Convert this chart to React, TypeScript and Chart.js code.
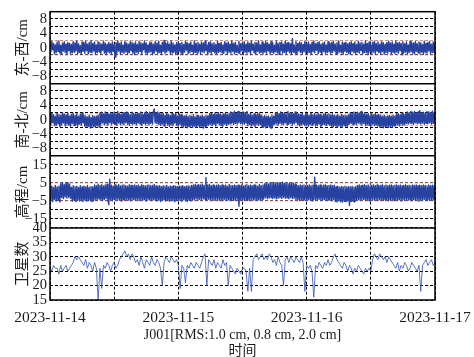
import React, { useEffect, useRef } from 'react';
import { Chart, registerables } from 'chart.js';

Chart.register(...registerables);

// ---------- data ----------
const DATE_LABELS = ['2023-11-14', '2023-11-15', '2023-11-16', '2023-11-17'];
const X_MAX_HOURS = 72; // 2023-11-14 00:00 .. 2023-11-17 00:00
const X_TITLE = ['J001[RMS:1.0 cm, 0.8 cm, 2.0 cm]', '时间'];
const Y_TITLES = ['东-西/cm', '南-北/cm', '高程/cm', '卫星数'];

// east-west, one sample every 10 minutes (cm)
const EAST_WEST = [
  1.4, -1.1, 1.8, -0.6, 1.2, -1.7, 0.8, -1.4, 1.6, -1.0, 1.9, -1.5, 0.7, -1.8, 1.3, -0.9, 1.7, -1.3, 1.0, -1.9, 1.5, -0.8, 1.2, -1.6,
  0.9, -1.4, 1.7, -1.2, 1.4, -0.7, 1.9, -1.6, 1.1, -1.3, 0.6, -1.8, 1.6, -1.0, 1.3, -1.5, 1.8, -0.8, 1.0, -1.7, 1.5, -1.2, 2.0, -1.4,
  1.2, -0.9, 1.6, -1.8, 0.8, -1.3, 1.7, -1.1, 1.4, -1.6, 1.0, -0.7, 1.8, -1.5, 1.3, -1.9, 0.9, -1.2, 1.5, -1.4, 1.1, -1.7, 1.6, -1.0,
  0.8, -2.6, 1.4, -1.5, 1.9, -0.9, 1.2, -1.7, 1.6, -1.3, 0.7, -1.6, 1.8, -1.1, 1.3, -1.8, 1.0, -1.4, 1.7, -0.8, 1.5, -1.5, 1.2, -1.9,
  1.6, -1.2, 0.9, -1.6, 1.8, -1.0, 1.4, -1.7, 1.1, -0.6, 1.9, -1.4, 1.3, -1.8, 0.8, -1.3, 1.6, -1.1, 1.5, -1.9, 1.0, -1.5, 1.7, -0.9,
  1.3, -1.6, 1.8, -1.3, 0.7, -1.8, 1.5, -1.0, 2.0, -1.5, 1.2, -1.2, 1.6, -0.8, 1.0, -1.7, 1.9, -1.4, 1.3, -1.1, 0.8, -1.6, 1.4, -1.8,
  1.7, -1.0, 1.2, -1.5, 1.5, -1.9, 0.9, -1.2, 1.8, -0.7, 1.4, -1.6, 1.1, -1.4, 1.6, -1.0, 0.7, -1.8, 1.9, -1.3, 1.2, -1.5, 1.5, -0.9,
  1.0, -1.7, 1.6, -1.1, 1.3, -1.4, 1.9, -0.8, 0.8, -1.9, 1.5, -1.2, 1.7, -1.6, 1.1, -1.0, 1.4, -1.5, 0.9, -1.7, 1.8, -1.3, 1.2, -1.1,
  1.5, -1.4, 0.8, -1.6, 1.7, -0.9, 1.3, -1.8, 1.6, -1.2, 1.0, -1.5, 1.9, -1.0, 1.2, -1.7, 1.5, -1.3, 0.7, -1.4, 1.8, -1.6, 1.1, -0.8,
  1.4, -1.9, 1.7, -1.2, 0.9, -1.5, 1.6, -1.1, 1.2, -1.8, 1.8, -0.7, 1.0, -1.4, 1.5, -1.6, 1.3, -1.0, 1.9, -1.5, 0.8, -1.3, 1.6, -1.7,
  1.1, -1.2, 1.8, -1.5, 1.4, -0.9, 1.0, -1.7, 1.7, -1.3, 1.3, -1.6, 0.7, -1.1, 1.9, -1.4, 1.2, -1.8, 1.5, -0.8, 1.6, -1.5, 1.0, -1.3,
  1.8, -1.6, 1.3, -1.0, 1.5, -1.4, 1.1, -1.7, 2.6, -1.2, 0.8, -1.5, 1.7, -1.8, 1.2, -0.9, 1.6, -1.3, 1.4, -1.6, 0.9, -1.1, 1.8, -1.4,
  1.2, -1.5, 1.6, -1.3, 0.9, -1.8, 1.5, -1.1, 1.9, -1.4, 1.1, -0.7, 1.4, -1.6, 1.7, -1.2, 1.0, -1.9, 1.3, -1.0, 1.6, -1.5, 0.8, -1.4,
  1.7, -1.1, 1.2, -1.6, 1.5, -1.3, 1.8, -0.9, 1.0, -1.7, 1.4, -1.5, 1.9, -1.2, 0.7, -1.4, 1.6, -1.8, 1.3, -1.0, 1.5, -1.3, 1.1, -1.6,
  1.4, -1.8, 1.7, -1.0, 1.1, -1.4, 1.6, -1.6, 0.9, -1.2, 1.8, -1.5, 1.3, -0.8, 1.5, -1.7, 1.0, -1.3, 1.9, -1.4, 1.2, -1.9, 1.6, -1.1,
  0.8, -1.5, 1.5, -1.2, 1.8, -1.7, 1.2, -0.9, 1.6, -1.4, 1.0, -1.6, 1.7, -1.1, 1.4, -1.8, 0.9, -1.3, 1.5, -1.5, 1.8, -1.0, 1.3, -1.7,
  1.6, -1.3, 1.0, -1.6, 1.9, -1.2, 1.3, -1.5, 1.5, -0.8, 1.2, -1.9, 1.7, -1.4, 1.1, -1.2, 1.6, -1.6, 0.8, -1.4, 1.8, -1.1, 1.4, -1.5,
  1.3, -1.7, 1.7, -1.0, 1.1, -1.4, 1.6, -1.6, 1.4, -1.2, 0.9, -1.8, 1.8, -1.3, 1.2, -1.5, 1.5, -0.9, 1.7, -1.6, 1.0, -1.3, 1.6, -1.4,
  1.2,
];

// north-south, one sample every 10 minutes (cm)
const NORTH_SOUTH = [
  1.7, -1.3, 1.9, -0.8, 1.4, -1.6, 1.0, -1.5, 1.8, -1.1, 1.5, -1.9, 1.2, -1.4, 2.0, -0.9, 1.6, -1.7, 1.3, -1.2, 1.9, -1.5, 1.1, -1.8,
  1.5, -1.0, 1.8, -1.6, 1.2, -1.3, 1.7, -1.8, 1.0, -1.2, 1.6, -1.5, 1.9, -0.9, 1.3, -1.7, 1.1, -2.0, 0.8, -1.8, 1.3, -2.2, 0.7, -1.7,
  1.2, -1.9, 0.9, -2.1, 1.0, -1.6, 1.3, -2.0, 1.9, -1.2, 2.1, -0.9, 1.6, -1.4, 2.2, -1.1, 1.8, -1.5, 1.5, -0.8, 2.0, -1.3, 1.7, -1.0,
  2.1, -1.2, 1.6, -1.5, 2.3, -0.9, 1.8, -1.3, 1.5, -1.1, 2.0, -1.4, 1.7, -0.8, 2.2, -1.2, 1.9, -1.5, 1.4, -1.0, 2.1, -1.3, 1.8, -1.1,
  1.6, -1.4, 2.0, -0.9, 1.8, -1.2, 2.2, -1.5, 1.5, -1.0, 1.9, -1.3, 2.3, -1.1, 1.7, -1.4, 2.1, -1.0, 1.8, -1.2, 2.4, 3.0, -0.9, 2.0,
  -1.1, 2.2, -1.3, 1.9, -1.5, 1.6, -1.2, 1.8, -1.7, 1.3, -1.0, 1.9, -1.4, 1.5, -1.8, 1.2, -1.3, 1.7, -1.6, 1.4, -0.9, 1.8, -1.5, 1.1,
  -1.7, 1.6, -1.3, 1.4, -1.8, 1.2, -2.0, 1.1, -1.7, 1.3, -2.2, 0.9, -1.9, 1.2, -1.6, 1.0, -2.1, 1.4, -1.8, 0.8, -2.0, 1.2, -1.7, 1.1,
  -2.1, 1.0, -1.8, 1.3, -2.3, 0.9, -1.9, 1.2, -1.6, 1.1, -1.5, 1.7, -1.2, 1.9, -1.6, 1.4, -1.3, 1.8, -1.7, 1.5, -1.0, 2.0, -1.4, 1.6,
  -1.6, 1.3, -1.8, 1.7, -1.2, 1.9, -1.5, 1.4, -1.3, 1.8, -1.1, 2.2, -0.9, 2.0, -1.3, 2.4, -1.0, 1.8, -1.2, 2.3, -0.8, 2.1, -1.1, 1.9,
  -1.0, 2.2, -1.2, 2.0, -0.9, 2.3, -1.6, 1.5, -1.3, 1.8, -1.7, 1.2, -1.4, 1.7, -1.9, 1.4, -1.2, 1.6, -1.5, 1.9, -1.3, 1.3, -2.1, 1.0,
  -1.9, 1.2, -2.2, 0.9, -1.8, 1.1, -2.0, 0.8, -2.3, 1.3, -1.7, 1.0, -1.3, 1.9, -1.1, 2.1, -1.5, 1.7, -1.0, 2.2, -1.2, 1.8, -1.4, 2.0,
  -0.9, 1.6, -1.3, 2.3, -1.2, 1.8, -1.0, 2.0, -1.5, 1.7, -1.1, 2.2, -0.8, 1.9, -1.3, 1.6, -1.7, 1.5, -1.4, 1.8, -1.2, 1.3, -1.6, 1.7,
  -1.4, 1.6, -1.8, 1.2, -1.3, 1.9, -1.5, 1.4, -1.1, 1.7, -1.7, 1.3, -1.5, 1.8, -1.2, 1.5, -1.9, 1.1, -1.4, 1.6, -1.3, 1.9, -1.6, 1.4,
  -1.2, 1.7, -1.5, 1.3, -1.8, 1.6, -1.9, 1.3, -1.6, 1.1, -2.0, 1.4, -1.7, 1.0, -1.8, 1.5, -2.1, 1.2, -1.5, 1.3, -1.9, 1.1, -1.7, 1.4,
  -1.2, 2.0, -1.0, 1.8, -1.4, 2.2, -1.1, 1.7, -1.3, 2.1, -0.9, 1.9, -1.2, 2.3, -1.4, 1.6, -1.0, 2.0, -1.6, 1.5, -1.3, 1.7, -1.5, 1.2,
  -1.8, 1.6, -1.2, 1.4, -1.6, 1.8, -1.4, 1.3, -1.7, 1.5, -2.0, 1.2, -1.8, 1.0, -2.2, 1.3, -1.9, 0.9, -1.7, 1.1, -2.1, 1.2, -1.8, 1.0,
  -2.0, 1.3, -1.7, 1.1, -1.5, 1.8, -1.3, 1.6, -1.7, 1.4, -1.2, 1.9, -1.5, 1.5, -1.4, 1.7, -1.0, 2.2, -1.2, 2.0, -0.9, 2.4, -1.1, 2.1,
  -1.3, 2.3, -0.8, 1.9, -1.1, 2.2, -1.0, 2.5, -1.2, 2.0, -0.9, 2.1, -1.3, 1.8, -1.0, 2.3, -1.1, 2.2, -0.8, 2.0, -1.2, 2.4, -1.0, 2.1,
  -0.9,
];

// height (up), one sample every 10 minutes (cm)
const HEIGHT = [
  2.9, -4.8, 3.3, -5.4, 2.4, -4.2, 3.6, -5.1, 2.7, -4.6, 3.1, -5.6, 4.6, -3.1, 5.2, -3.7, 4.1, -2.8, 4.9, -3.4, 5.3, -3.0, 4.4, -3.6,
  2.6, -5.2, 3.4, -4.7, 2.9, -5.5, 3.1, -4.4, 2.5, -5.0, 3.5, -4.8, 2.8, -5.3, 3.2, -4.5, 2.7, -5.1, 3.6, -4.9, 2.4, -4.6, 3.0, -5.4,
  2.8, -5.0, 3.8, -4.1, 3.4, -4.6, 4.2, -3.9, 3.6, -4.4, 4.0, -4.8, 3.3, -4.2, 3.9, -3.7, 4.3, -4.5, -7.0, 7.1, -4.4, 3.7, -4.9, 3.2,
  -4.2, 3.8, -4.7, 3.4, -4.0, 4.1, -4.6, 3.3, -5.0, 3.7, -4.3, 3.9, -4.8, 3.5, -4.1, 3.2, -4.5, 4.0, -4.9, 3.6, -4.4, 3.4, -4.2, 3.9,
  -4.7, 3.5, -4.1, 3.8, -4.9, 3.2, -4.4, 4.0, -4.6, 3.6, -4.3, 3.3, -5.1, 3.7, -4.0, 3.9, -4.5, 3.4, -4.8, 3.6, -4.2, 4.1, -4.6, 3.3,
  -5.0, 3.2, -4.6, 3.5, -5.3, 2.9, -4.8, 3.4, -4.4, 3.1, -5.1, 3.6, -4.7, 2.8, -5.2, 3.3, -4.5, 3.0, -4.9, 3.4, -5.4, 3.1, -4.6, 2.9,
  -5.0, 3.3, -4.7, 3.0, -5.2, 3.5, -4.4, 2.9, -4.9, 3.2, -5.3, 3.4, -4.6, 3.1, -5.0, 3.6, -4.2, 3.9, -4.5, 4.1, -3.9, 3.7, -4.6, 4.0,
  -4.1, 3.8, -4.4, 4.2, -3.8, 3.6, -4.3, 8.0, -4.5, 3.9, -4.0, 4.1, -4.6, 3.5, -4.2, 3.9, -4.8, 3.3, -4.4, 3.7, -4.1, 4.0, -4.7, 3.4,
  -4.3, 3.8, -4.9, 3.5, -4.1, 3.9, -4.6, 3.2, -4.4, 4.1, -4.8, 3.6, -4.2, 3.4, -4.7, 3.8, -4.5, 3.5, -4.0, 3.7, -8.0, 3.6, -4.5, 3.9,
  -4.4, 3.3, -4.8, 3.7, -4.2, 4.0, -4.6, 3.5, -4.9, 3.8, -4.1, 3.4, -4.5, 3.9, -4.3, 3.6, -4.7, 3.2, -4.4, 4.1, -4.8, 3.5, -4.2, 3.8,
  -3.6, 4.6, -3.2, 4.9, -3.8, 4.4, -3.4, 5.1, -3.1, 4.7, -3.7, 5.3, -3.3, 4.5, -3.9, 4.8, -3.5, 5.0, -3.2, 4.6, -3.6, 5.4, -3.0, 4.7,
  -3.5, 4.9, -3.3, 4.5, -3.8, 5.1, -3.2, 4.6, -3.7, 4.8, -3.4, 4.4, -4.5, 3.7, -4.2, 3.4, -4.8, 3.9, -4.3, 3.6, -4.6, 3.8, -4.1, 3.5,
  -4.7, 3.6, -4.3, 3.9, -4.5, 3.4, -4.9, 3.7, -4.2, 8.2, -4.4, 3.8, -4.6, 3.5, -4.1, 3.9, -4.8, 3.3, -4.4, 3.7, -4.2, 4.0, -4.7, 3.5,
  -4.5, 3.6, -4.3, 3.8, -4.9, 3.4, -4.2, 3.7, -5.3, 2.9, -5.6, 3.1, -5.0, 2.6, -5.4, 3.0, -5.7, 2.8, -5.2, 3.2, -5.5, 2.7, -5.1, 3.0,
  -7.6, 2.8, -5.4, 3.1, -5.2, 2.6, -5.6, 2.9, -4.6, 3.6, -4.2, 3.9, -4.8, 3.4, -4.5, 3.7, -4.1, 4.0, -4.7, 3.5, -4.3, 3.8, -4.9, 3.3,
  -4.4, 3.7, -4.1, 3.9, -4.6, 3.4, -4.3, 3.8, -4.8, 3.5, -4.2, 3.6, -4.5, 4.0, -4.7, 3.3, -4.4, 3.8, -4.2, 3.5, -4.9, 3.7, -4.3, 3.9,
  -4.5, 3.4, -4.8, 3.7, -4.2, 3.9, -4.6, 3.5, -4.4, 3.8, -5.0, 3.3, -4.3, 3.6, -4.7, 4.0, -4.1, 3.5, -4.6, 3.7, -4.4, 3.4, -4.9, 3.8,
  -4.2, 3.6, -4.7, 3.9, -4.3, 3.5, -5.2, 3.7, -4.5, 3.4, -4.8, 3.8, -4.1, 3.6, -4.6, 3.3, -4.4, 3.9, -4.7, 3.5, -4.3, 3.7, -4.5, 3.6,
  -4.2,
];

// number of satellites, one sample every 20 minutes
const SATELLITES = [
  26, 25, 27, 26, 26, 24, 27, 25, 26, 27, 25, 26, 27, 28, 30, 29, 30, 29, 28, 27,
  29, 26, 28, 27, 25, 28, 26, 15, 26, 19, 27, 26, 28, 27, 25, 27, 28, 26, 27, 29,
  30, 31, 32, 30, 31, 29, 31, 30, 28, 29, 27, 30, 28, 26, 29, 28, 27, 30, 28, 27,
  29, 28, 26, 20, 28, 30, 29, 28, 30, 29, 28, 29, 27, 19, 27, 26, 21, 27, 26, 28,
  27, 26, 28, 27, 26, 28, 30, 31, 20, 29, 28, 27, 29, 26, 28, 27, 26, 29, 27, 28,
  20, 27, 26, 25, 24, 26, 25, 24, 26, 26, 25, 18, 26, 18, 29, 30, 31, 29, 30, 31,
  29, 30, 29, 31, 30, 28, 29, 27, 30, 28, 27, 20, 29, 30, 28, 30, 29, 28, 30, 29,
  28, 30, 28, 18, 27, 26, 27, 25, 16, 27, 26, 28, 27, 26, 28, 27, 29, 27, 28, 30,
  31, 29, 28, 27, 26, 28, 27, 25, 27, 26, 24, 26, 25, 27, 26, 25, 24, 26, 25, 26,
  25, 29, 31, 30, 29, 31, 30, 29, 30, 28, 30, 29, 28, 27, 26, 28, 25, 27, 26, 28,
  27, 25, 26, 28, 27, 26, 25, 27, 18, 27, 28, 29, 27, 28, 29, 27, 28,
];

// reference (RMS) lines per panel
const REF_EW = [2, -2];
const REF_NS = [1.6, -1.6];
const REF_H = [5, -5];

// ---------- styling ----------
const SERIF = '"Liberation Serif", "Times New Roman", "Noto Sans CJK SC", serif';
const TEXT = '#1c1c1c';
const BLUE = '#2742a0';
const SAT_BLUE = 'rgba(52,84,178,0.9)';
const ORANGE = 'rgba(238,150,120,0.95)';

const toPoints = (arr: number[]) => {
  const step = X_MAX_HOURS / (arr.length - 1);
  return arr.map((v, i) => ({ x: i * step, y: v }));
};
const flat = (v: number) => [
  { x: 0, y: v },
  { x: X_MAX_HOURS, y: v },
];
const fmt = (v: number) => (v < 0 ? '\u2212' + Math.abs(v) : String(v));

function yScale(
  min: number,
  max: number,
  step: number,
  title: string,
  show: (v: number) => boolean,
  weight: number
) {
  return {
    type: 'linear',
    position: 'left',
    stack: 'panels',
    stackWeight: 1,
    weight,
    min,
    max,
    ticks: {
      stepSize: step,
      autoSkip: false,
      padding: 3,
      color: TEXT,
      font: { family: SERIF, size: 14.5 },
      callback: (v: number) => (show(v) ? fmt(v) : ''),
    },
    grid: { color: '#000', lineWidth: 1, drawTicks: false },
    border: { display: false, dash: [3, 2] },
    title: {
      display: true,
      text: title,
      color: TEXT,
      font: { family: SERIF, size: 15 },
      padding: { top: 14, bottom: 0 },
    },
    afterFit: (s: any) => {
      s.width = 50;
    },
  };
}

const framePlugin = {
  id: 'frame',
  afterDatasetsDraw(chart: any) {
    const { ctx, chartArea } = chart;
    const { left, right, top, bottom } = chartArea;
    ctx.save();
    ctx.strokeStyle = '#000';
    ctx.lineWidth = 1.5;
    ctx.setLineDash([]);
    ctx.strokeRect(left, top, right - left, bottom - top);
    ['yEW', 'yNS', 'yH'].forEach((id) => {
      const s = chart.scales[id];
      ctx.beginPath();
      ctx.moveTo(left, s.bottom);
      ctx.lineTo(right, s.bottom);
      ctx.stroke();
    });
    ctx.restore();
  },
};

export default function App() {
  const ref = useRef<HTMLCanvasElement | null>(null);

  useEffect(() => {
    if (!ref.current) return;
    const dataLine = (data: number[], axis: string, color: string, width: number) => ({
      data: toPoints(data),
      yAxisID: axis,
      borderColor: color,
      borderWidth: width,
      pointRadius: 0,
      tension: 0,
      borderJoinStyle: 'round',
      order: 0,
    });
    const refLine = (v: number, axis: string) => ({
      data: flat(v),
      yAxisID: axis,
      borderColor: ORANGE,
      borderWidth: 1,
      borderDash: [3, 2],
      pointRadius: 0,
      order: 1,
    });

    const chart = new Chart(ref.current, {
      type: 'line',
      data: {
        datasets: [
          dataLine(EAST_WEST, 'yEW', BLUE, 1.4),
          dataLine(NORTH_SOUTH, 'yNS', BLUE, 1.4),
          dataLine(HEIGHT, 'yH', BLUE, 1.4),
          dataLine(SATELLITES, 'ySat', SAT_BLUE, 0.9),
          ...REF_EW.map((v) => refLine(v, 'yEW')),
          ...REF_NS.map((v) => refLine(v, 'yNS')),
          ...REF_H.map((v) => refLine(v, 'yH')),
        ] as any,
      },
      options: {
        responsive: false,
        animation: false,
        events: [],
        layout: { padding: { left: 0, right: 39, top: 11, bottom: 0 } },
        plugins: { legend: { display: false }, tooltip: { enabled: false } },
        scales: {
          x: {
            type: 'linear',
            position: 'bottom',
            min: 0,
            max: X_MAX_HOURS,
            ticks: {
              stepSize: 12,
              autoSkip: false,
              maxRotation: 0,
              padding: 9,
              color: TEXT,
              font: { family: SERIF, size: 15.5 },
              callback: (v: number) => (v % 24 === 0 ? DATE_LABELS[v / 24] : ''),
            },
            grid: { color: '#000', lineWidth: 1, drawTicks: false },
            border: { display: false, dash: [3, 2] },
            title: {
              display: true,
              text: X_TITLE,
              color: TEXT,
              font: { family: SERIF, size: 14, lineHeight: '16px' },
              padding: { top: 0, bottom: -2 },
            },
            afterFit: (s: any) => {
              s.height = 57;
              s.paddingLeft = 0;
              s.paddingRight = 0;
            },
          },
          ySat: yScale(15, 40, 5, Y_TITLES[3], () => true, 1),
          yH: yScale(-20, 20, 5, Y_TITLES[2], (v) => v % 10 !== 0, 2),
          yNS: yScale(-10, 10, 2, Y_TITLES[1], (v) => v % 4 === 0 && Math.abs(v) < 10, 3),
          yEW: yScale(-10, 10, 2, Y_TITLES[0], (v) => v % 4 === 0 && Math.abs(v) < 10, 4),
        } as any,
      },
      plugins: [framePlugin],
    });
    return () => chart.destroy();
  }, []);

  return (
    <div style={{ position: 'fixed', left: 0, top: 0, width: 474, height: 357, background: '#fff' }}>
      <canvas ref={ref} width={474} height={357} style={{ display: 'block' }} />
    </div>
  );
}
